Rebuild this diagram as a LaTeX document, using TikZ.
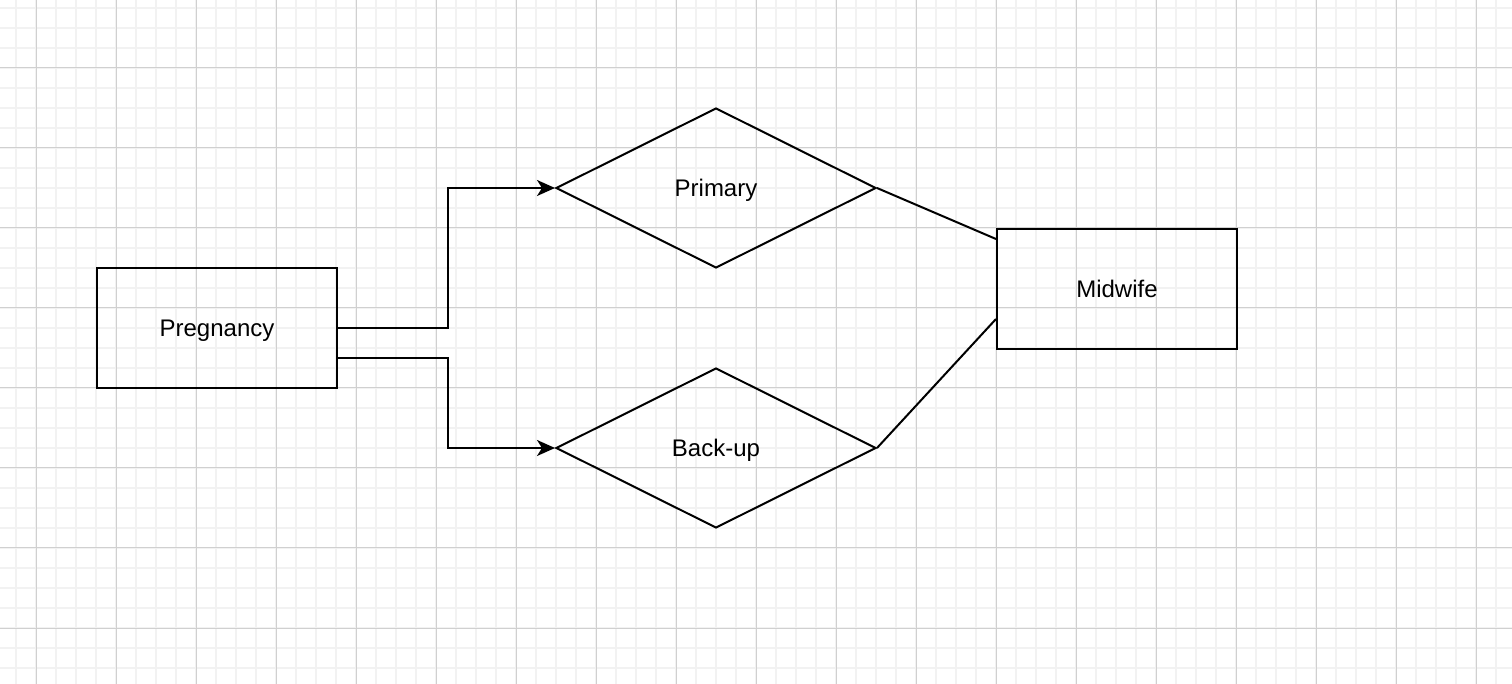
\documentclass[tikz,border=0pt]{standalone}
\usepackage{fontspec}
\setmainfont{Liberation Sans}
\usetikzlibrary{shapes.geometric,arrows.meta}
\definecolor{gridminor}{HTML}{F2F2F2}
\definecolor{gridmajor}{HTML}{D0D0D0}
\tikzset{
  entity/.style={draw,line width=1pt,rectangle,minimum width=120pt,minimum height=60pt,inner sep=0pt,text depth=0pt},
  relation/.style={draw,line width=1pt,diamond,minimum width=160pt,minimum height=80pt,inner sep=0pt,text depth=0pt},
  link/.style={line width=1pt},
  flow/.style={line width=1pt,-{Stealth[length=9pt,width=8pt,inset=2.5pt]}}
}
\begin{document}
\begin{tikzpicture}[x=0.5pt,y=-0.5pt,font=\fontsize{12}{14}\selectfont]
  \useasboundingbox (0,0) rectangle (1512,684);
  % grid
  \foreach \x in {16,36,...,1512} \draw [gridminor,line width=0.6pt] (\x,0) -- (\x,684);
  \foreach \y in {8,28,...,684} \draw [gridminor,line width=0.6pt] (0,\y) -- (1512,\y);
  \foreach \x in {36,116,...,1512} \draw [gridmajor,line width=0.5pt] (\x,0) -- (\x,684);
  \foreach \y in {68,148,...,684} \draw [gridmajor,line width=0.5pt] (0,\y) -- (1512,\y);
  % shapes
  \node [entity] (pregnancy) at (217,328) {Pregnancy};
  \node [relation] (primary) at (716,188) {Primary};
  \node [relation] (backup) at (716,448) {Back-up};
  \node [entity] (midwife) at (1117,289) {Midwife};
  % connectors
  \draw [flow] (pregnancy.east) -- ++(110,0) |- (primary.west);
  \draw [flow] ([yshift=-15pt]pregnancy.east) -- ++(110,0) |- (backup.west);
  \draw [link] (primary.east) -- ([yshift=25pt]midwife.west);
  \draw [link] (backup.east) -- ([yshift=-15pt]midwife.west);
\end{tikzpicture}
\end{document}
